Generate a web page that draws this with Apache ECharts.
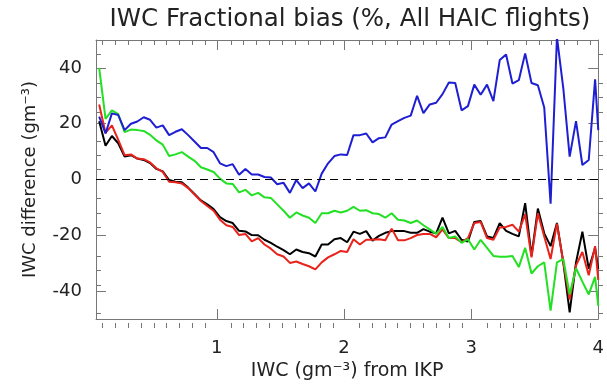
<!DOCTYPE html>
<html><head><meta charset="utf-8">
<script src="https://cdn.jsdelivr.net/npm/echarts@6/dist/echarts.min.js"></script>
<style>html,body{margin:0;padding:0;background:#fff}#c{width:607px;height:386px}</style>
</head><body><div id="c"></div>
<script>
const iwc = [0.075,0.125,0.175,0.225,0.275,0.325,0.375,0.425,0.475,0.525,
0.575,0.625,0.675,0.725,0.775,0.825,0.875,0.925,0.975,1.025,
1.075,1.125,1.175,1.225,1.275,1.325,1.375,1.425,1.475,1.525,
1.575,1.625,1.675,1.725,1.775,1.825,1.875,1.925,1.975,2.025,
2.075,2.125,2.175,2.225,2.275,2.325,2.375,2.425,2.475,2.525,
2.575,2.625,2.675,2.725,2.775,2.825,2.875,2.925,2.975,3.025,
3.075,3.125,3.175,3.225,3.275,3.325,3.375,3.425,3.475,3.525,
3.575,3.625,3.675,3.725,3.775,3.825,3.875,3.925,3.975,4.0];
const blueVals = [22.5,16.5,23.7,23.1,17.7,20,20.8,22.3,21.4,18.6,
19.4,15.9,17.1,18,15.9,13.6,11.3,11.3,9.8,5.8,
4.8,5.5,1.7,3.8,1.8,1.8,0.9,0.7,-1.7,-1.2,
-4.8,-0.2,-3.1,-1.4,-4.3,2.1,5.8,8.4,9.0,8.8,
15.9,15.9,16.5,13.3,14.8,15.1,19.7,20.9,22.1,22.9,
30,23.8,26.9,27.5,30.6,34.8,34.6,24.8,26.3,34,
30.4,34,28.1,42.8,44.8,34.4,35.6,45.2,34.6,33.8,
25.8,-8.7,51,32.7,8.2,20.9,5.2,7,35.9,17.7];
const greenVals = [40,21.7,24.8,23.4,17,17.9,17.7,17.4,16,14,
12.5,8.4,9,9.8,8.2,6.7,4.4,3.6,2.7,0.3,
-1.4,-1.6,-4.6,-3.7,-5.7,-4.8,-6.4,-6.6,-8.9,-11.2,
-13.7,-11.8,-12.9,-13.7,-15.6,-12.1,-12.1,-11.2,-11.8,-11.2,
-9.8,-11.2,-11,-12.1,-12.4,-13.7,-12.1,-14.4,-14.7,-15.6,
-14.7,-16.4,-17.9,-19.5,-17,-21,-20.4,-22.7,-21.4,-25.1,
-21.6,-24.5,-27.4,-27.7,-27.7,-27.4,-31.4,-24.5,-33.7,-31.1,
-29.7,-47,-29.7,-28.5,-41.2,-31.8,-36.6,-41.2,-34.9,-45.3];
const blackVals = [20.9,12.1,15.6,13,8.2,8.7,7.5,7,5.9,3.8,
2.9,-0.2,-0.8,-1,-2.9,-5.2,-7.5,-8.9,-10.6,-13.5,
-14.9,-15.6,-18.4,-18.6,-19.9,-20,-21.6,-22.7,-24.1,-25.3,
-26.8,-25.1,-26,-26.4,-27.6,-23.3,-23.3,-21.4,-21,-22.5,
-18.7,-19.5,-18.5,-21.9,-20.2,-19.1,-18.5,-18.5,-18.5,-19.1,
-19.1,-17.8,-18.7,-19.3,-13.7,-19.3,-18.4,-21.6,-22.2,-15.2,
-14.9,-20.4,-21,-15.6,-18.4,-19.5,-20.4,-8.5,-27.4,-10.4,
-19.3,-23.9,-15.6,-29.7,-47.6,-29.7,-18.7,-32,-24.5,-32];
const redVals = [26.9,16.7,19.4,14.2,8.7,9,7.5,7.3,6.1,4,
2.7,-0.8,-1,-1.4,-3.1,-5.4,-7.7,-9.5,-11.2,-14.4,
-16.4,-17,-19.9,-19.5,-22.2,-21,-23.3,-24.8,-26.8,-27.6,
-29.9,-29.4,-30.3,-31.1,-32.2,-29.7,-27.9,-26.8,-25.6,-26,
-21.4,-23.3,-21.6,-21.6,-21.4,-21.8,-17.6,-21.8,-21.8,-21,
-19.9,-19.5,-19.5,-20.7,-17.9,-21,-21,-22.5,-21,-15.6,
-15.2,-21,-21.6,-17.2,-17,-16.2,-18.7,-12.4,-27.9,-12.1,
-20.4,-28.5,-15.8,-29.7,-43,-30.8,-26,-34.3,-23.9,-36];
const xMajor = [1,2,3,4];
const xMinor = [0.1,0.2,0.3,0.4,0.5,0.6,0.7,0.8,0.9,1.1,1.2,1.3,1.4,1.5,1.6,1.7,1.8,1.9,
2.1,2.2,2.3,2.4,2.5,2.6,2.7,2.8,2.9,3.1,3.2,3.3,3.4,3.5,3.6,3.7,3.8,3.9];
const yMajor = [-40,-20,0,20,40];
const yMinor = [-45,-35,-30,-25,-15,-10,-5,5,10,15,25,30,35,45];
const titleText = 'IWC Fractional bias (%, All HAIC flights)';
const xName = 'IWC (gm\u207B\u00B3) from IKP';
const yName = 'IWC difference (gm\u207B\u00B3)';

const FONT = 'DejaVu Sans';
const AX = '#777';
const TXT = '#222';
const X0 = 0.05, X1 = 4, Y0 = -50, Y1 = 50;
const gridRect = {left: 96, right: 4, top: 40, bottom: 58};

function xAxisDef(grid, pos, ticks, len, line, labels) {
  return {type: 'value', gridIndex: grid, position: pos, min: X0, max: X1,
    axisLine: {show: line, onZero: false, lineStyle: {color: AX, width: 1}},
    axisTick: {show: true, inside: true, length: len, customValues: ticks, lineStyle: {color: AX, width: 1}},
    axisLabel: labels ? {show: true, customValues: ticks, fontSize: 18, fontFamily: FONT, color: TXT, margin: 20} : {show: false},
    splitLine: {show: false}};
}
function yAxisDef(grid, pos, ticks, len, line, labels) {
  return {type: 'value', gridIndex: grid, position: pos, min: Y0, max: Y1,
    axisLine: {show: line, onZero: false, lineStyle: {color: AX, width: 1}},
    axisTick: {show: true, inside: true, length: len, customValues: ticks, lineStyle: {color: AX, width: 1}},
    axisLabel: labels ? {show: true, customValues: ticks, fontSize: 18, fontFamily: FONT, color: TXT, margin: 14} : {show: false},
    splitLine: {show: false}};
}

const xMain = xAxisDef(0, 'bottom', xMajor, 10, true, true);
xMain.name = xName; xMain.nameLocation = 'middle'; xMain.nameGap = 43;
xMain.nameTextStyle = {fontSize: 19, fontFamily: FONT, color: TXT};
const yMain = yAxisDef(0, 'left', yMajor, 10, true, true);
yMain.name = yName; yMain.nameLocation = 'middle'; yMain.nameGap = 57;
yMain.nameTextStyle = {fontSize: 18, fontFamily: FONT, color: TXT};

function mk(vals) { return iwc.map((x, i) => [x, vals[i]]); }
function line(name, vals, color, extra) {
  return Object.assign({name, type: 'line', xAxisIndex: 0, yAxisIndex: 0, data: mk(vals),
    symbol: 'none', clip: true, animation: false,
    lineStyle: {color, width: 2}, itemStyle: {color}}, extra || {});
}

const chart = echarts.init(document.getElementById('c'), null, {renderer: 'canvas'});
chart.setOption({
  animation: false,
  backgroundColor: '#fff',
  grid: [Object.assign({}, gridRect), Object.assign({}, gridRect)],
  xAxis: [xMain, xAxisDef(0, 'top', xMajor, 10, true, false),
          xAxisDef(1, 'bottom', xMinor, 5, false, false), xAxisDef(1, 'top', xMinor, 5, false, false)],
  yAxis: [yMain, yAxisDef(0, 'right', yMajor, 10, true, false),
          yAxisDef(1, 'left', yMinor, 5, false, false), yAxisDef(1, 'right', yMinor, 5, false, false)],
  graphic: [{type: 'text', x: 350, y: 20, style: {text: titleText, fontSize: 24.5, fontFamily: FONT,
    fill: TXT, align: 'center', verticalAlign: 'middle'}}],
  series: [
    line('black', blackVals, '#000000', {markLine: {silent: true, symbol: ['none', 'none'], label: {show: false},
      lineStyle: {color: '#000', width: 1, type: [8, 5]}, data: [{yAxis: 0}], animation: false}}),
    line('red', redVals, '#e8231b'),
    line('green', greenVals, '#22e022'),
    line('blue', blueVals, '#1e1ed2')
  ]
});
</script></body></html>
